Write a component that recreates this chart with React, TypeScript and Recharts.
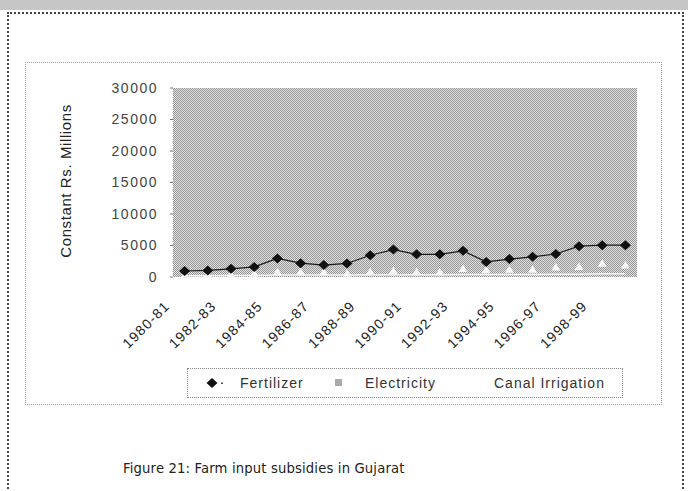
import React from 'react';
import { LineChart, Line, XAxis, YAxis, CartesianGrid } from 'recharts';

const categories = ['1980-81','1981-82','1982-83','1983-84','1984-85','1985-86','1986-87','1987-88','1988-89','1989-90','1990-91','1991-92','1992-93','1993-94','1994-95','1995-96','1996-97','1997-98','1998-99','1999-00'];
const fertilizer = [950, 1050, 1300, 1600, 2950, 2200, 1900, 2150, 3450, 4350, 3600, 3600, 4150, 2400, 2850, 3200, 3650, 4900, 5050, 5050];
const electricity = [300, 400, 450, 600, 850, 850, 850, 600, 850, 1000, 850, 850, 1350, 1150, 1250, 1250, 1600, 1650, 2200, 1900];
const canalIrrigation = [200, 200, 250, 250, 300, 300, 300, 300, 350, 350, 350, 350, 400, 400, 400, 400, 450, 450, 500, 500];
const yTicks = [0, 5000, 10000, 15000, 20000, 25000, 30000];

const data = categories.map((c, i) => ({
  cat: c,
  fertilizer: fertilizer[i],
  electricity: electricity[i],
  canal: canalIrrigation[i],
}));

const FONT = '"Liberation Sans", Arial, sans-serif';

const Diamond = (props: any) => {
  const { cx, cy } = props;
  if (cx == null || cy == null) return null;
  return <path d={`M${cx},${cy - 5} L${cx + 5.5},${cy} L${cx},${cy + 5} L${cx - 5.5},${cy} Z`} fill="#111" />;
};

const Triangle = (props: any) => {
  const { cx, cy } = props;
  if (cx == null || cy == null) return null;
  return <path d={`M${cx},${cy - 4} L${cx + 4.5},${cy + 3.5} L${cx - 4.5},${cy + 3.5} Z`} fill="#f6f6f6" />;
};

const XTick = (props: any) => {
  const { x, y, payload } = props;
  const px = x - 14;
  const py = y + 30;
  return (
    <text x={px} y={py} textAnchor="end" transform={`rotate(-45 ${px} ${py})`}
      fontSize={14} fontFamily={FONT} letterSpacing={1.2} fill="#222">
      {payload.value}
    </text>
  );
};

export default function App() {
  return (
    <div style={{ position: 'absolute', left: 0, top: 0, width: 688, height: 491, background: '#fff', overflow: 'hidden' }}>
      {/* top hatched band */}
      <div style={{ position: 'absolute', left: 0, top: 0, width: 688, height: 10, background: '#c6c6c6' }} />
      {/* outer border */}
      <div style={{ position: 'absolute', left: 7, top: 12, width: 673, height: 500, border: '2px dotted #444' }} />
      {/* inner chart frame */}
      <div style={{ position: 'absolute', left: 25, top: 62, width: 635, height: 341, border: '1px dotted #999' }} />

      <div style={{ position: 'absolute', left: 0, top: 0 }}>
        <LineChart width={688} height={491} data={data}
          margin={{ top: 88, right: 51, bottom: 154, left: 113 }}>
          <defs>
            <pattern id="chk" width="2" height="2" patternUnits="userSpaceOnUse">
              <rect width="2" height="2" fill="#e2e2e2" />
              <rect width="1" height="1" fill="#959595" />
              <rect x="1" y="1" width="1" height="1" fill="#959595" />
            </pattern>
          </defs>
          <CartesianGrid horizontal={false} vertical={false} fill="url(#chk)" stroke="none" />
          <XAxis dataKey="cat" scale="band" interval={1} height={60} axisLine={false} tickLine={false}
            tickSize={0} tickMargin={0} tick={<XTick />} />
          <YAxis domain={[0, 30000]} ticks={yTicks} width={60} tickSize={3} tickMargin={12}
            axisLine={{ stroke: '#bbb', strokeDasharray: '1 2' }} tickLine={{ stroke: '#777' }}
            tick={{ fontSize: 14, fontFamily: FONT, fill: '#444', letterSpacing: 1.5 }} />
          <Line dataKey="canal" stroke="#f4f4f4" strokeWidth={1.5} dot={false} isAnimationActive={false} />
          <Line dataKey="electricity" stroke="#bdbdbd" strokeOpacity={0} dot={<Triangle />} isAnimationActive={false} />
          <Line dataKey="fertilizer" stroke="#1a1a1a" strokeWidth={1.2} dot={<Diamond />} isAnimationActive={false} />
        </LineChart>
      </div>

      {/* y axis title */}
      <div style={{ position: 'absolute', left: 65, top: 181, transform: 'translate(-50%, -50%) rotate(-90deg)', whiteSpace: 'nowrap', fontFamily: FONT, fontSize: 15, color: '#222', letterSpacing: 0.6 }}>
        Constant Rs. Millions
      </div>

      {/* legend */}
      <div style={{ position: 'absolute', left: 187, top: 368, width: 434, height: 28, border: '1px dotted #888', fontFamily: FONT, fontSize: 14, color: '#333', letterSpacing: 1 }}>
        <svg style={{ position: 'absolute', left: 18, top: 8 }} width="20" height="12">
          <path d="M6,1 L11.5,6 L6,11 L0.5,6 Z" fill="#111" />
          <rect x="15" y="5.5" width="2" height="1.5" fill="#555" />
        </svg>
        <span style={{ position: 'absolute', left: 52, top: 6 }}>Fertilizer</span>
        <svg style={{ position: 'absolute', left: 146, top: 9 }} width="10" height="10">
          <rect x="1" y="1" width="7" height="7" fill="#aaa" />
        </svg>
        <span style={{ position: 'absolute', left: 177, top: 6 }}>Electricity</span>
        <span style={{ position: 'absolute', left: 306, top: 6 }}>Canal Irrigation</span>
      </div>

      {/* caption */}
      <div style={{ position: 'absolute', left: 123, top: 461, fontFamily: '"DejaVu Sans", sans-serif', fontSize: 13.2, letterSpacing: 0.15, color: '#222', whiteSpace: 'nowrap' }}>
        Figure 21: Farm input subsidies in Gujarat
      </div>
    </div>
  );
}
